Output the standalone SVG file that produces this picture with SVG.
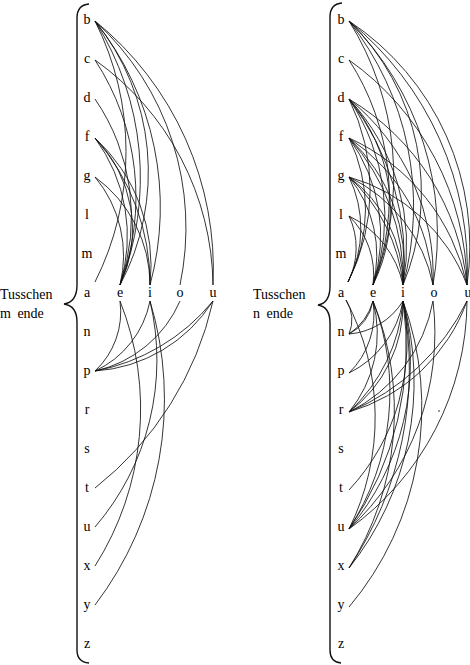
<svg xmlns="http://www.w3.org/2000/svg" width="470" height="665" viewBox="0 0 470 665">
<style>
text{font-family:"Liberation Serif","DejaVu Serif",serif;font-size:14px;fill:#000}
.l{text-anchor:middle}
.c path{fill:none;stroke:#111;stroke-width:0.85}
.brace{fill:none;stroke:#111;stroke-width:1.4}
</style>
<rect width="470" height="665" fill="#fff"/>
<!-- braces -->
<g id="brace-left"><path class="brace" d="M89,4 Q77,5 77,18 L77,285 Q77,302 64,304 Q77,306 77,322 L77,650 Q77,662 89,663"/></g>
<g id="brace-right"><path class="brace" d="M342,3 Q330,4 330,17 L330,286 Q330,303 318,305 Q330,307 330,323 L330,650 Q330,662 341,663"/></g>
<!-- labels -->
<g id="label-left"><text x="0" y="299">Tusschen</text><text x="0" y="318" word-spacing="3">m ende</text></g>
<g id="label-right"><text x="253" y="299">Tusschen</text><text x="253" y="318" word-spacing="3">n ende</text></g>
<!-- left letters -->
<g id="L-b"><text class="l" x="87" y="24">b</text></g>
<g id="L-c"><text class="l" x="87" y="63">c</text></g>
<g id="L-d"><text class="l" x="87" y="102">d</text></g>
<g id="L-f"><text class="l" x="87" y="141">f</text></g>
<g id="L-g"><text class="l" x="87" y="180">g</text></g>
<g id="L-l"><text class="l" x="87" y="219">l</text></g>
<g id="L-m"><text class="l" x="87" y="258">m</text></g>
<g id="L-a"><text class="l" x="87" y="297">a</text></g>
<g id="L-e"><text class="l" x="120" y="297">e</text></g>
<g id="L-i"><text class="l" x="150" y="297">i</text></g>
<g id="L-o"><text class="l" x="180" y="297">o</text></g>
<g id="L-u"><text class="l" x="213" y="297">u</text></g>
<g id="L-n"><text class="l" x="87" y="336">n</text></g>
<g id="L-p"><text class="l" x="87" y="375">p</text></g>
<g id="L-r"><text class="l" x="87" y="414">r</text></g>
<g id="L-s"><text class="l" x="87" y="453">s</text></g>
<g id="L-t"><text class="l" x="87" y="492">t</text></g>
<g id="L-u2"><text class="l" x="87" y="531">u</text></g>
<g id="L-x"><text class="l" x="87" y="570">x</text></g>
<g id="L-y"><text class="l" x="87" y="609">y</text></g>
<g id="L-z"><text class="l" x="87" y="648">z</text></g>
<!-- right letters -->
<g id="R-b"><text class="l" x="341" y="24">b</text></g>
<g id="R-c"><text class="l" x="341" y="63">c</text></g>
<g id="R-d"><text class="l" x="341" y="102">d</text></g>
<g id="R-f"><text class="l" x="341" y="141">f</text></g>
<g id="R-g"><text class="l" x="341" y="180">g</text></g>
<g id="R-l"><text class="l" x="341" y="219">l</text></g>
<g id="R-m"><text class="l" x="341" y="258">m</text></g>
<g id="R-a"><text class="l" x="341" y="297">a</text></g>
<g id="R-e"><text class="l" x="373" y="297">e</text></g>
<g id="R-i"><text class="l" x="403" y="297">i</text></g>
<g id="R-o"><text class="l" x="434" y="297">o</text></g>
<g id="R-u"><text class="l" x="468" y="297">u</text></g>
<g id="R-n"><text class="l" x="341" y="336">n</text></g>
<g id="R-p"><text class="l" x="341" y="375">p</text></g>
<g id="R-r"><text class="l" x="341" y="414">r</text></g>
<g id="R-s"><text class="l" x="341" y="453">s</text></g>
<g id="R-t"><text class="l" x="341" y="492">t</text></g>
<g id="R-u2"><text class="l" x="341" y="531">u</text></g>
<g id="R-x"><text class="l" x="341" y="570">x</text></g>
<g id="R-y"><text class="l" x="341" y="609">y</text></g>
<g id="R-z"><text class="l" x="341" y="648">z</text></g>
<!-- connectors -->
<g id="connectors" class="c">
<path d="M95,21 A290,290 0 0 1 95,282"/>
<path d="M95,21 A293,293 0 0 1 120,285"/>
<path d="M95,21 A240,240 0 0 1 120,285"/>
<path d="M95,21 A298,298 0 0 1 150,285"/>
<path d="M95,21 A280,280 0 0 1 180,285"/>
<path d="M95,21 A320,320 0 0 1 213,285"/>
<path d="M95,60 A250,250 0 0 1 120,285"/>
<path d="M95,60 A280,280 0 0 1 213,285"/>
<path d="M95,99 A208,208 0 0 1 120,285"/>
<path d="M95,138 A165,165 0 0 1 120,285"/>
<path d="M95,138 A130,130 0 0 1 120,285"/>
<path d="M95,138 A174,174 0 0 1 150,285"/>
<path d="M95,138 A220,220 0 0 1 150,285"/>
<path d="M95,177 A123,123 0 0 1 120,285"/>
<path d="M95,177 A134,134 0 0 1 150,285"/>
<path d="M120,301 A81,81 0 0 1 95,371"/>
<path d="M150,301 A98,98 0 0 1 95,371"/>
<path d="M180,301 A121,121 0 0 1 95,371"/>
<path d="M213,301 A151,151 0 0 1 95,371"/>
<path d="M213,301 A200,200 0 0 1 95,371"/>
<path d="M120,301 A293,293 0 0 1 95,566"/>
<path d="M150,301 A256,256 0 0 1 95,527"/>
<path d="M150,301 A340,340 0 0 1 95,605"/>
<path d="M213,301 A330,330 0 0 1 95,488"/>

<path d="M349,21 A293,293 0 0 1 373,285"/>
<path d="M349,21 A298,298 0 0 1 403,285"/>
<path d="M349,21 A240,240 0 0 1 403,285"/>
<path d="M349,21 A300,300 0 0 1 433,285"/>
<path d="M349,21 A320,320 0 0 1 467,285"/>
<path d="M349,21 A270,270 0 0 1 467,285"/>
<path d="M349,60 A250,250 0 0 1 373,285"/>
<path d="M349,60 A280,280 0 0 1 467,285"/>
<path d="M349,99 A204,204 0 0 1 348,282"/>
<path d="M349,99 A208,208 0 0 1 373,285"/>
<path d="M349,99 A170,170 0 0 1 373,285"/>
<path d="M349,99 A215,215 0 0 1 403,285"/>
<path d="M349,99 A260,260 0 0 1 403,285"/>
<path d="M349,99 A227,227 0 0 1 433,285"/>
<path d="M349,99 A244,244 0 0 1 467,285"/>
<path d="M349,138 A161,161 0 0 1 348,282"/>
<path d="M349,138 A165,165 0 0 1 373,285"/>
<path d="M349,138 A174,174 0 0 1 403,285"/>
<path d="M349,138 A210,210 0 0 1 403,285"/>
<path d="M349,138 A188,188 0 0 1 433,285"/>
<path d="M349,138 A209,209 0 0 1 467,285"/>
<path d="M349,177 A118,118 0 0 1 348,282"/>
<path d="M349,177 A123,123 0 0 1 373,285"/>
<path d="M349,177 A134,134 0 0 1 403,285"/>
<path d="M349,177 A170,170 0 0 1 403,285"/>
<path d="M349,177 A153,153 0 0 1 433,285"/>
<path d="M349,177 A177,177 0 0 1 467,285"/>
<path d="M349,216 A75,75 0 0 1 348,282"/>
<path d="M349,216 A82,82 0 0 1 373,285"/>
<path d="M349,216 A99,99 0 0 1 403,285"/>

<path d="M346,300 A36,36 0 0 1 349,334"/>
<path d="M373,301 A45,45 0 0 1 349,334"/>
<path d="M373,301 A60,60 0 0 1 349,334"/>
<path d="M403,301 A70,70 0 0 1 349,334"/>
<path d="M373,301 A83,83 0 0 1 349,373"/>
<path d="M403,301 A99,99 0 0 1 349,373"/>
<path d="M373,301 A124,124 0 0 1 349,412"/>
<path d="M403,301 A135,135 0 0 1 349,412"/>
<path d="M403,301 A170,170 0 0 1 349,412"/>
<path d="M433,301 A154,154 0 0 1 349,412"/>
<path d="M467,301 A178,178 0 0 1 349,412"/>
<path d="M467,301 A230,230 0 0 1 349,412"/>
<path d="M403,301 A216,216 0 0 1 349,490"/>
<path d="M346,300 A251,251 0 0 1 349,529"/>
<path d="M373,301 A251,251 0 0 1 349,529"/>
<path d="M403,301 A257,257 0 0 1 349,529"/>
<path d="M403,301 A320,320 0 0 1 349,529"/>
<path d="M433,301 A267,267 0 0 1 349,529"/>
<path d="M467,301 A282,282 0 0 1 349,529"/>
<path d="M373,301 A294,294 0 0 1 349,568"/>
<path d="M403,301 A299,299 0 0 1 349,568"/>
<path d="M403,301 A360,360 0 0 1 349,568"/>
<path d="M403,301 A310,310 0 0 1 349,607"/>
</g>
<circle cx="439" cy="411" r="0.8" fill="#111"/>
</svg>
